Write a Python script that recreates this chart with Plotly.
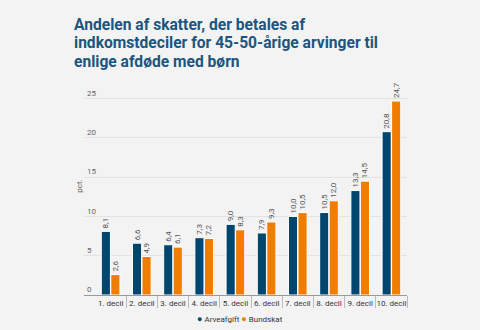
import plotly.graph_objects as go

categories = ["1. decil", "2. decil", "3. decil", "4. decil", "5. decil",
              "6. decil", "7. decil", "8. decil", "9. decil", "10. decil"]
arveafgift = [8.1, 6.6, 6.4, 7.3, 9.0, 7.9, 10.0, 10.5, 13.3, 20.8]
bundskat = [2.6, 4.9, 6.1, 7.2, 8.3, 9.3, 10.5, 12.0, 14.5, 24.7]
title_lines = ["Andelen af skatter, der betales af",
               "indkomstdeciler for 45-50-årige arvinger til",
               "enlige afdøde med børn"]

BLUE = "#00466f"
ORANGE = "#f07d00"
BG = "#f3f3f3"

# plot area in page pixels
L, R, T, B = 84, 407, 83, 295.5
W_, H_ = R - L, B - T


def px_x(px):
    return (px - L) / W_


def px_y(py):
    return (B - py) / H_


fig = go.Figure()
for name, vals, col in [("Arveafgift", arveafgift, BLUE), ("Bundskat", bundskat, ORANGE)]:
    fig.add_trace(go.Bar(
        x=categories, y=vals, name=name,
        marker=dict(color=col, line=dict(color="#ffffff", width=1)),
        texttemplate="%{y:.1f}", textposition="outside", textangle=-90,
        constraintext="none", cliponaxis=False,
        textfont=dict(family="Roboto", size=8, color="#555555"),
    ))

legend_html = (f'<span style="color:{BLUE};font-size:9px">●</span> Arveafgift '
               f'<span style="color:{ORANGE};font-size:9px">●</span> Bundskat')

annotations = []
# title, one annotation per line for tighter leading
for i, line in enumerate(title_lines):
    annotations.append(dict(
        text=line, xref="paper", yref="paper", x=px_x(72), y=px_y(25 + 18.3 * i),
        xanchor="left", yanchor="middle", align="left", showarrow=False,
        font=dict(family="Roboto", size=15.6, weight=700, color="#1b5580")))
annotations += [
    dict(text="pct.", textangle=-90, xref="paper", yref="paper",
         x=px_x(80), y=px_y(187), xanchor="center", yanchor="middle", showarrow=False,
         font=dict(family="Roboto", size=8, color="#666666")),
    dict(text=legend_html, xref="paper", yref="paper",
         x=px_x(240), y=px_y(320), xanchor="center", yanchor="middle",
         showarrow=False, font=dict(family="Roboto", size=8, color="#333333")),
]

fig.update_layout(
    width=480, height=330,
    paper_bgcolor=BG, plot_bgcolor=BG,
    margin=dict(l=L, r=480 - R, t=T, b=330 - B, autoexpand=False),
    separators=", ",
    barmode="group", bargap=0.39, bargroupgap=0.04,
    font=dict(family="Roboto", color="#333333"),
    showlegend=False,
    xaxis=dict(
        range=[-0.853, 9.5], showgrid=False, automargin=False,
        showline=True, linecolor="#999999", linewidth=1,
        ticks="outside", tickson="boundaries", ticklen=12, tickwidth=1,
        tickangle=0, tickcolor="#bbbbbb",
        tickfont=dict(size=8, color="#333333"),
    ),
    yaxis=dict(
        range=[0, 27], tickvals=[0, 5, 10, 15, 20, 25], automargin=False,
        showgrid=True, gridcolor="#e3e3e3", gridwidth=1,
        zeroline=False, ticks="", ticklabelposition="inside top",
        tickfont=dict(size=8, color="#666666"),
    ),
    annotations=annotations,
)

fig.write_html("out.html")
